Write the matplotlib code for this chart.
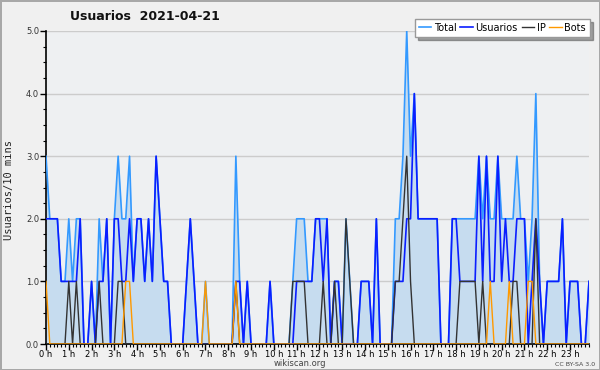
import numpy as np
import matplotlib
matplotlib.use("Agg")
import matplotlib.pyplot as plt
from matplotlib.ticker import MultipleLocator, FixedLocator

# 10-minute slots for 2021-04-21, one row per hour
total = [3, 2, 2, 2, 1, 1,   2, 1, 2, 2, 0, 0,   1, 0, 2, 1, 2, 0,
         2, 3, 2, 2, 3, 1,   2, 2, 1, 2, 1, 3,   2, 1, 1, 0, 0, 0,
         0, 1, 2, 1, 0, 0,   1, 0, 0, 0, 0, 0,   0, 0, 3, 1, 0, 1,
         0, 0, 0, 0, 0, 1,   0, 0, 0, 0, 0, 1,   2, 2, 2, 1, 1, 2,
         2, 2, 2, 0, 1, 1,   0, 2, 1, 0, 0, 1,   1, 1, 0, 2, 0, 0,
         0, 0, 2, 2, 3, 5,   3, 4, 2, 2, 2, 2,   2, 2, 0, 0, 0, 2,
         2, 2, 2, 2, 2, 2,   3, 2, 3, 2, 2, 3,   2, 2, 2, 2, 3, 2,
         2, 1, 2, 4, 1, 0,   1, 1, 1, 1, 2, 0,   1, 1, 1, 0, 0, 1]

usuarios = [2, 2, 2, 2, 1, 1,   1, 1, 1, 2, 0, 0,   1, 0, 1, 1, 2, 0,
            2, 2, 1, 1, 2, 1,   2, 2, 1, 2, 1, 3,   2, 1, 1, 0, 0, 0,
            0, 1, 2, 1, 0, 0,   0, 0, 0, 0, 0, 0,   0, 0, 1, 1, 0, 1,
            0, 0, 0, 0, 0, 1,   0, 0, 0, 0, 0, 0,   1, 1, 1, 1, 1, 2,
            2, 1, 2, 0, 1, 1,   0, 0, 0, 0, 0, 1,   1, 1, 0, 2, 0, 0,
            0, 0, 1, 1, 1, 2,   2, 4, 2, 2, 2, 2,   2, 2, 0, 0, 0, 2,
            2, 1, 1, 1, 1, 1,   3, 1, 3, 1, 1, 3,   1, 2, 1, 1, 2, 2,
            2, 0, 1, 2, 1, 0,   1, 1, 1, 1, 2, 0,   1, 1, 1, 0, 0, 1]

ip = [0, 0, 0, 0, 0, 0,   1, 0, 1, 0, 0, 0,   0, 0, 1, 0, 0, 0,
      0, 1, 1, 0, 0, 0,   0, 0, 0, 0, 0, 0,   0, 0, 0, 0, 0, 0,
      0, 0, 0, 0, 0, 0,   0, 0, 0, 0, 0, 0,   0, 0, 1, 0, 0, 0,
      0, 0, 0, 0, 0, 0,   0, 0, 0, 0, 0, 1,   1, 1, 1, 0, 0, 0,
      0, 1, 0, 0, 1, 0,   0, 2, 1, 0, 0, 0,   0, 0, 0, 0, 0, 0,
      0, 0, 1, 1, 2, 3,   1, 0, 0, 0, 0, 0,   0, 0, 0, 0, 0, 0,
      0, 1, 1, 1, 1, 1,   0, 1, 0, 0, 0, 0,   0, 0, 0, 1, 1, 0,
      0, 0, 0, 2, 0, 0,   0, 0, 0, 0, 0, 0,   0, 0, 0, 0, 0, 0]

bots = [1, 0, 0, 0, 0, 0,   0, 0, 0, 0, 0, 0,   0, 0, 0, 0, 0, 0,
        0, 0, 0, 1, 1, 0,   0, 0, 0, 0, 0, 0,   0, 0, 0, 0, 0, 0,
        0, 0, 0, 0, 0, 0,   1, 0, 0, 0, 0, 0,   0, 0, 1, 0, 0, 0,
        0, 0, 0, 0, 0, 0,   0, 0, 0, 0, 0, 0,   0, 0, 0, 0, 0, 0,
        0, 0, 0, 0, 0, 0,   0, 0, 0, 0, 0, 0,   0, 0, 0, 0, 0, 0,
        0, 0, 0, 0, 0, 0,   0, 0, 0, 0, 0, 0,   0, 0, 0, 0, 0, 0,
        0, 0, 0, 0, 0, 0,   0, 0, 0, 1, 0, 0,   0, 0, 1, 0, 0, 0,
        0, 1, 1, 0, 0, 0,   0, 0, 0, 0, 0, 0,   0, 0, 0, 0, 0, 0]

hour_labels = [f"{h} h" for h in range(24)]

x = np.arange(len(total))

fig = plt.figure(figsize=(6, 3.7), dpi=100, facecolor='#f0f0f0',
                 edgecolor='#a8a8a8', linewidth=2)
ax = fig.add_axes([46 / 600, 1 - 344 / 370, 543 / 600, 313 / 370])
ax.set_facecolor('#eef0f2')

ax.fill_between(x, 0, total, color='#c6dcef', lw=0, zorder=1)
ax.plot(x, total, color='#3399ff', lw=1.2, label='Total', zorder=3)
ax.plot(x, usuarios, color='#0a1eff', lw=1.2, label='Usuarios', zorder=4)
ax.plot(x, ip, color='#333333', lw=1.0, label='IP', zorder=5)
ax.plot(x, bots, color='#ff9900', lw=1.0, label='Bots', zorder=6)

ax.set_xlim(0, len(total) - 1)
ax.set_ylim(0, 5)

# horizontal grid
ax.yaxis.set_major_locator(MultipleLocator(1))
ax.yaxis.set_minor_locator(MultipleLocator(0.25))
ax.set_yticklabels([f"{v:.1f}" for v in ax.get_yticks()])
ax.grid(axis='y', which='major', color='#cccccc', lw=1, zorder=0)
ax.set_axisbelow(True)

ax.xaxis.set_major_locator(FixedLocator(list(range(0, len(total), 6))))
ax.xaxis.set_minor_locator(MultipleLocator(1))
ax.set_xticklabels(hour_labels)

ax.tick_params(axis='both', which='major', labelsize=6, length=4,
               width=1, color='black', pad=1)
ax.tick_params(axis='x', which='major', pad=0.5)
ax.tick_params(axis='both', which='minor', length=2.5, width=0.8)
ax.tick_params(axis='y', labelcolor='#333333')

for side in ['top', 'right']:
    ax.spines[side].set_visible(False)
for side in ['left', 'bottom']:
    ax.spines[side].set_color('black')
    ax.spines[side].set_linewidth(1.2)

fig.text(145 / 600, 1 - 17 / 370, "Usuarios  2021-04-21", ha='center',
         va='center', fontsize=9, fontweight='bold', color='#111111')
fig.text(9 / 600, 1 - 190 / 370, "Usuarios/10 mins", rotation=90,
         ha='center', va='center', fontsize=7.5, family='DejaVu Sans Mono',
         color='#222222')
fig.text(300 / 600, 1 - 363 / 370, "wikiscan.org", ha='center', va='center',
         fontsize=6, color='#444444')
fig.text(575 / 600, 1 - 364 / 370, "CC BY-SA 3.0", ha='center', va='center',
         fontsize=4.5, color='#444444')

leg = fig.legend(loc='upper right', bbox_to_anchor=(590 / 600, 1 - 19 / 370),
                 ncol=4, fontsize=7, frameon=True, fancybox=False,
                 shadow=True, handlelength=1.3, handletextpad=0.25,
                 columnspacing=0.4, borderpad=0.4, borderaxespad=0)
leg.get_frame().set_edgecolor('#999999')
leg.get_frame().set_facecolor('white')
leg.get_frame().set_linewidth(1)

fig.savefig("out.png", dpi=100, facecolor=fig.get_facecolor(),
            edgecolor=fig.get_edgecolor())
